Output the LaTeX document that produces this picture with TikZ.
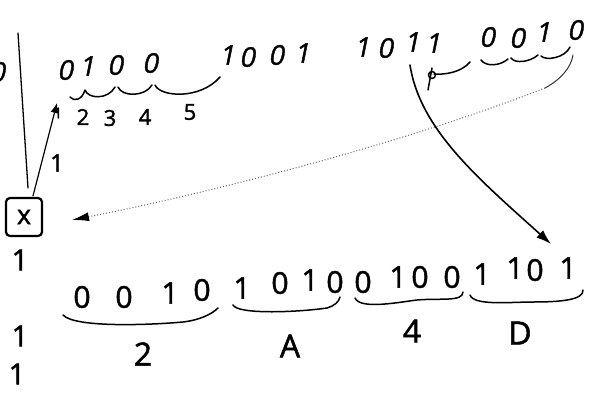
\documentclass[tikz,border=0pt]{standalone}
\usepackage{fontspec}
\setmainfont{Open Sans}[FakeBold=1.5]
\newfontfamily\slfont{Open Sans}[FakeSlant=0.2,FakeBold=1.5]
\usetikzlibrary{arrows.meta}
\begin{document}
\begin{tikzpicture}[x=1pt,y=-1pt,
  topd/.style={inner sep=0pt,font=\slfont\fontsize{27}{27}\selectfont},
  botd/.style={inner sep=0pt,font=\fontsize{30}{30}\selectfont},
  small/.style={inner sep=0pt,font=\fontsize{22}{22}\selectfont},
  hexlab/.style={inner sep=0pt,font=\fontsize{32}{32}\selectfont},
  onelab/.style={inner sep=0pt,font=\fontsize{29}{29}\selectfont},
  pen/.style={line width=1.6pt,line cap=round,line join=round},
  brace/.style={line width=1.5pt,line cap=round,line join=round},
  dotline/.style={line width=1pt,black!60,dotted},
  boxnode/.style={draw,line width=2.2pt,rounded corners=4pt,minimum width=36pt,minimum height=38pt,inner sep=0pt,font=\fontsize{27}{27}\selectfont}]
\useasboundingbox (0,0) rectangle (600,399);
\fill[white] (0,0) rectangle (600,399);

% top row of bits
\node[topd] (t0) at (-3,72) {0};
\foreach \d/\x/\y [count=\i] in {0/65/70,1/87/66,0/115/65,0/150/63,
  1/227/55,0/247/57,0/276/55,1/302/53,
  1/362/47,0/385/48,1/412/42,1/433/43,
  0/487/37,0/517/38,1/543/32,0/575/30}
  \node[topd] (t\i) at (\x,\y) {\d};

% bottom row of bits
\foreach \d/\x/\y [count=\i] in {0/82/297,0/124/297,1/170/293,0/202/290,
  1/242/288,0/280/283,1/310/280,0/335/282,
  0/363/282,1/398/277,0/420/277,0/452/277,
  1/482/274,1/515/268,0/535/270,1/568/268}
  \node[botd] (b\i) at (\x,\y) {\d};

% left stuff
\node[boxnode] (box) at (24,217) {x};
\coordinate (vtop) at (18,33);
\coordinate (vbot) at (28,188);
\draw[pen,line width=1.3pt] (vtop) -- (vbot);
\node[small,font=\fontsize{15}{15}\selectfont] (s1) at (58,113) {1};
\coordinate (ahead) at (57,103);
\draw[pen,line width=1.2pt,-{Latex[length=10pt,width=8pt]}] (box.north) ++(9,-1) coordinate (bstart) (bstart) -- (ahead);
\node[onelab,font=\fontsize{24}{24}\selectfont] (l1) at (57,163) {1};
\node[small] (s2) at (83,117) {2};
\node[small] (s3) at (110,118) {3};
\node[small] (s4) at (145,117) {4};
\node[small] (s5) at (190,112) {5};
\node[onelab] (o1) at (20,260) {1};
\node[onelab] (o2) at (20,336) {1};
\node[onelab] (o3) at (17,374) {1};

% braces under 0100
\draw[brace] (70,97) .. controls (74,102) and (82,100) .. (85,90)
  .. controls (88,99) and (108,100) .. (115,87);
\draw[brace] (118,87) .. controls (122,97) and (145,97) .. (152,85);
\draw[brace] (155,85) .. controls (160,97) and (200,100) .. (220,77);

% braces under 0010
\draw[brace] (428,90) -- (432,68);
\draw[brace] (432,75) circle (3.5);
\draw[brace] (434,74) .. controls (445,75) and (462,72) .. (470,62);
\draw[brace] (481,60) .. controls (486,67) and (500,66) .. (508,59);
\draw[brace] (511,58) .. controls (515,64) and (530,62) .. (538,55);
\draw[brace] (541,56) .. controls (546,61) and (565,58) .. (570,47);
\coordinate (cstart) at (573,55);
\coordinate (cmid) at (545,88);
\coordinate (dotEnd) at (72,220);
\draw[line width=1pt,line cap=round,black!80] (cstart) .. controls (571,68) and (560,80) .. (cmid);
\draw[dotline,-{Latex[length=17pt,width=9pt,black]}] (cmid) .. controls (400,145) and (200,195) .. (dotEnd);

% solid curved arrow
\coordinate (aStart) at (410,65);
\coordinate (aEnd) at (551,244);
\draw[pen,line width=1.6pt,-{Latex[length=15pt,width=10pt]}] (aStart) .. controls (420,130) and (480,180) .. (aEnd);

% bottom braces
\draw[brace] (63,315) .. controls (75,328) and (150,325) .. (183,322) .. controls (200,320) and (212,314) .. (218,308);
\draw[brace] (233,305) .. controls (238,315) and (300,312) .. (327,308) .. controls (334,306) and (339,302) .. (340,297);
\draw[brace] (355,298) .. controls (360,310) and (400,302) .. (417,300) .. controls (440,298) and (463,302) .. (463,292);
\draw[brace] (470,295) .. controls (474,306) and (510,302) .. (533,302) .. controls (560,302) and (584,300) .. (583,290);

\node[hexlab] (h2) at (143,354) {2};
\node[hexlab] (hA) at (290,346) {A};
\node[hexlab] (h4) at (412,331) {4};
\node[hexlab] (hD) at (520,333) {D};
\end{tikzpicture}
\end{document}
